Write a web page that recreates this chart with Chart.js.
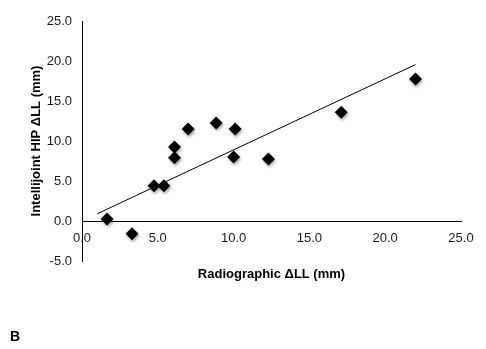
<!DOCTYPE html>
<html>
<head>
<meta charset="utf-8">
<script src="https://cdn.jsdelivr.net/npm/chart.js@4/dist/chart.umd.min.js"></script>
<style>
  html, body { margin: 0; padding: 0; background: #fff; }
  #wrap { width: 486px; height: 349px; }
</style>
</head>
<body>
<div id="wrap"><canvas id="chart"></canvas></div>
<script>
// Radiographic ΔLL vs Intellijoint HIP ΔLL (mm)
let xValues = [1.65, 3.3, 4.75, 5.4, 6.1, 6.1, 7.0, 8.85, 10.1, 10.0, 12.3, 17.1, 22.0];
let yValues = [0.25, -1.6, 4.4, 4.4, 9.25, 7.9, 11.5, 12.25, 11.5, 8.0, 7.75, 13.6, 17.75];

// linear trendline end points
let trendX = [1.0, 22.0];
let trendY = [0.9, 19.55];

let xTicks = [0, 5, 10, 15, 20, 25];
let yTicks = [-5, 0, 5, 10, 15, 20, 25];

const font = "'Liberation Sans', Arial, sans-serif";

let points = xValues.map((x, i) => ({ x: x, y: yValues[i] }));
let trend = trendX.map((x, i) => ({ x: x, y: trendY[i] }));

// soft shadow under the diamonds, and the panel letter
const extras = {
  id: "extras",
  beforeDatasetDraw(chart, args) {
    if (args.index === 0) {
      const ctx = chart.ctx;
      ctx.save();
      ctx.shadowColor = "rgba(0,0,0,0.35)";
      ctx.shadowBlur = 3;
      ctx.shadowOffsetX = 1;
      ctx.shadowOffsetY = 2;
    }
  },
  afterDatasetDraw(chart, args) {
    if (args.index === 0) chart.ctx.restore();
  },
  afterDraw(chart) {
    const ctx = chart.ctx;
    ctx.save();
    ctx.fillStyle = "#000";
    ctx.font = "bold 14px " + font;
    ctx.textBaseline = "middle";
    ctx.fillText("B", 10, 337);
    ctx.restore();
  },
};

new Chart(document.getElementById("chart"), {
  type: "scatter",
  data: {
    datasets: [
      {
        data: points,
        pointStyle: "rectRot",
        pointRadius: 6.5,
        pointHoverRadius: 6.5,
        backgroundColor: "#000",
        borderColor: "#000",
        borderWidth: 0,
        order: 1,
      },
      {
        type: "line",
        data: trend,
        borderColor: "#000",
        borderWidth: 1,
        pointRadius: 0,
        fill: false,
        order: 2,
      },
    ],
  },
  options: {
    responsive: true,
    maintainAspectRatio: false,
    animation: false,
    layout: {
      padding: { left: 0, right: 25, top: 21, bottom: 88 },
    },
    plugins: {
      legend: { display: false },
      tooltip: { enabled: false },
    },
    scales: {
      x: {
        type: "linear",
        position: { y: 0 },
        min: 0,
        max: 25,
        afterBuildTicks: (axis) => {
          axis.ticks = xTicks.map((v) => ({ value: v }));
        },
        grid: { display: false, drawTicks: false },
        border: { display: true, color: "#000", width: 1 },
        ticks: {
          padding: 9.5,
          color: "#1a1a1a",
          font: { family: font, size: 13 },
          callback: (v) => v.toFixed(1),
        },
        title: {
          display: true,
          text: "Radiographic ΔLL (mm)",
          color: "#000",
          font: { family: font, size: 13, weight: "bold" },
          padding: { top: 11.5, bottom: 0 },
        },
      },
      y: {
        type: "linear",
        position: "left",
        min: -5,
        max: 25,
        afterBuildTicks: (axis) => {
          axis.ticks = yTicks.map((v) => ({ value: v }));
        },
        afterFit: (axis) => {
          axis.width = 82;
        },
        grid: { display: false, drawTicks: false },
        border: { display: true, color: "#000", width: 1 },
        ticks: {
          padding: 10,
          color: "#1a1a1a",
          font: { family: font, size: 13 },
          callback: (v) => v.toFixed(1),
        },
        title: {
          display: true,
          text: "Intellijoint HIP ΔLL (mm)",
          color: "#000",
          font: { family: font, size: 13, weight: "bold" },
          padding: { top: 29, bottom: 0 },
        },
      },
    },
  },
  plugins: [extras],
});
</script>
</body>
</html>
